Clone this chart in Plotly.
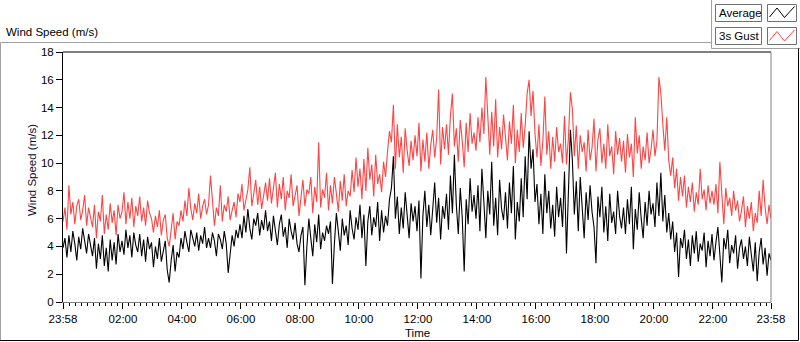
import plotly.graph_objects as go
import pandas as pd

# ---------------- data (4-minute samples from 23:58 to 23:58 next day) ----------------
average = [
    3.9, 4.6, 3.2, 4.8, 3.6, 5.1, 4.2, 3.0, 4.7, 3.8, 5.3, 4.4, 3.5, 4.9, 4.1,
    3.3, 4.6, 2.4, 4.2, 3.1, 4.8, 2.6, 3.9, 2.2, 4.5, 3.0, 4.3, 2.7, 4.9, 3.6,
    4.4, 3.4, 5.2, 3.9, 4.8, 3.2, 5.0, 4.1, 3.6, 4.9, 3.3, 4.5, 2.9, 4.7, 3.8,
    4.3, 2.5, 4.0, 3.1, 4.6, 2.9, 3.8, 4.4, 2.3, 1.4, 3.0, 4.1, 2.2, 3.6, 3.2,
    4.6, 3.8, 5.1, 4.3, 3.6, 5.2, 4.5, 4.0, 5.0, 3.7, 4.8, 4.2, 5.4, 3.9, 4.6,
    3.9, 5.0, 4.4, 3.3, 4.9, 4.5, 3.8, 5.1, 4.2, 2.1, 3.5, 4.8, 4.0, 5.2, 4.6,
    5.6, 4.6, 6.2, 5.0, 6.7, 5.3, 4.5, 6.0, 5.5, 6.4, 4.8, 5.9, 5.2, 6.6, 5.1,
    5.8, 4.4, 6.2, 5.0, 4.1, 5.6, 6.3, 4.7, 5.4, 3.9, 6.0, 5.1, 4.5, 5.7, 4.2,
    3.6, 4.8, 5.4, 1.2, 4.0, 6.0, 4.6, 3.3, 5.6, 4.3, 6.3, 3.8, 5.0, 4.4, 5.5,
    4.9, 5.8, 1.3, 4.2, 6.4, 5.1, 3.7, 6.0, 4.8, 5.5, 4.1, 6.6, 5.3, 4.5, 6.1,
    5.2, 7.0, 4.6, 6.3, 2.6, 5.8, 6.9, 4.8, 6.1, 5.4, 7.2, 4.4, 6.6, 5.0, 6.2,
    5.5, 7.4, 8.2, 10.5, 6.0, 7.6, 4.9, 6.8, 5.3, 7.9, 6.2, 4.6, 7.1, 5.8, 6.9,
    5.1, 7.3, 1.7, 6.2, 8.0, 5.4, 7.0, 4.8, 6.6, 8.6, 5.7, 7.5, 4.5, 6.9, 6.0,
    7.8, 5.2, 9.1, 6.4, 10.6, 7.0, 4.9, 8.2, 6.1, 2.2, 7.4, 5.6, 8.9, 6.5, 7.7,
    6.0, 8.4, 5.1, 9.6, 7.2, 4.6, 8.0, 6.3, 10.1, 5.5, 7.5, 4.8, 8.8, 6.7, 5.9,
    7.9, 5.3, 8.6, 6.4, 9.8, 4.5, 7.2, 5.8, 8.9, 6.1, 10.5, 7.4, 12.3, 9.6, 11.0,
    7.2, 8.5, 5.6, 7.8, 4.9, 9.2, 6.4, 8.0, 5.3, 7.0, 4.7, 8.3, 6.1, 7.5, 5.4,
    9.4, 3.5, 8.1, 12.4, 10.2, 6.3, 8.7, 5.1, 9.0, 6.8, 4.6, 7.9, 5.9, 8.4, 6.5,
    5.4, 2.8, 7.6, 6.1, 8.3, 5.0, 6.9, 4.4, 7.8, 5.7, 6.5, 4.9, 8.0, 6.2, 5.3,
    6.8, 4.9, 7.4, 5.6, 8.3, 3.8, 6.7, 5.2, 7.9, 6.0, 4.6, 7.2, 5.5, 8.0, 6.3,
    7.1, 5.4, 8.6, 6.2, 9.3, 5.8, 7.7, 5.0, 6.4, 4.5, 5.8, 3.6, 5.0, 1.8, 4.6,
    3.9, 5.2, 3.1, 4.5, 2.6, 4.8, 3.5, 5.1, 2.9, 4.2, 3.7, 5.0, 2.5, 4.4, 3.3,
    4.9, 3.0, 4.3, 5.4, 3.4, 1.4, 4.6, 3.8, 5.2, 2.8, 4.1, 3.5, 4.8, 2.4, 3.9,
    4.5, 3.1, 4.0, 2.6, 4.7, 3.4, 2.2, 4.3, 1.5, 3.6, 4.6, 2.7, 3.9, 1.9, 3.5,
    3.0,
]

gust = [
    5.8, 6.8, 5.2, 8.4, 6.3, 7.2, 5.6, 6.9, 7.4, 5.9, 6.6, 7.7, 5.5, 6.8, 6.1,
    5.4, 7.0, 4.6, 6.5, 5.8, 7.7, 4.9, 6.3, 5.2, 7.1, 5.7, 6.6, 4.8, 7.0, 6.0,
    6.5, 7.9, 5.6, 7.2, 6.0, 7.5, 5.4, 6.9, 6.2, 7.6, 5.8, 6.8, 5.5, 7.3, 6.4,
    6.0, 5.0, 6.2, 5.4, 6.6, 4.8, 5.9, 6.3, 4.6, 4.0, 5.1, 6.4, 4.5, 5.8, 5.5,
    6.6, 5.8, 7.3, 6.2, 8.2, 6.7, 5.9, 7.1, 6.4, 7.8, 6.0, 6.9, 7.4, 6.3, 7.0,
    9.1, 7.3, 5.5, 6.8, 6.2, 8.4, 5.8, 7.0, 6.5, 7.6, 5.9, 6.6, 7.2, 6.1, 7.8,
    7.2, 8.5, 6.6, 7.4, 8.1, 9.7, 6.9, 7.8, 8.8, 7.0, 8.3, 6.7, 7.6, 8.6, 7.3,
    8.9, 7.1, 8.2, 9.3, 6.8, 8.5, 7.4, 9.0, 6.6, 8.0, 7.5, 9.2, 6.9, 7.8, 8.4,
    6.2, 7.6, 8.8, 6.9, 8.1, 7.8, 9.0, 6.4, 8.3, 7.2, 11.5, 6.8, 8.1, 7.5, 9.3,
    6.6, 8.4, 7.1, 9.0, 7.8, 6.5, 8.7, 7.3, 9.2, 6.9, 8.0, 7.6, 9.5, 7.9, 10.4,
    8.3, 9.6, 7.4, 10.3, 8.0, 11.1, 8.8, 9.9, 7.6, 10.6, 8.5, 9.2, 7.9, 10.1, 9.0,
    10.8, 12.3, 11.5, 14.2, 9.6, 12.8, 10.4, 11.9, 9.3, 12.5, 10.9, 9.8, 11.6, 10.2, 12.0,
    10.5, 12.9, 9.4, 11.7, 10.1, 12.2, 9.6, 11.3, 12.4, 10.4, 11.8, 15.3, 9.9, 12.6, 11.0,
    12.8, 10.6, 13.4, 15.0, 11.2, 12.5, 10.1, 13.1, 11.6, 9.7, 12.9, 10.8, 13.6, 11.4, 12.2,
    10.9, 13.3, 11.5, 14.0, 12.1, 16.2, 12.8, 10.6, 13.7, 11.2, 14.6, 10.4, 12.6, 11.0, 13.5,
    11.8, 10.2, 13.0, 11.4, 14.2, 10.0, 12.4, 10.8, 13.6, 11.1, 12.7, 15.0, 16.0, 13.4, 15.2,
    12.1, 10.4, 12.8, 9.8, 11.6, 14.8, 10.6, 12.3, 9.6, 11.9, 10.1, 12.6, 10.8, 11.4, 10.0,
    13.4, 9.9, 11.8, 15.1, 13.9, 10.5, 12.7, 9.6, 12.0, 10.8, 11.5, 9.4, 12.4, 10.2, 11.1,
    13.2, 9.4, 11.7, 12.5, 10.0, 11.4, 9.6, 12.8, 10.5, 11.2, 9.2, 12.3, 10.6, 11.8, 10.1,
    11.6, 9.3, 12.1, 10.4, 11.4, 9.0, 13.3, 10.7, 12.0, 9.6, 11.2, 10.2, 12.2, 10.0, 11.0,
    12.4, 10.5, 11.6, 16.2, 15.0, 12.8, 10.9, 13.3, 10.2, 9.1, 10.4, 8.2, 9.6, 7.3, 9.0,
    7.6, 9.1, 6.8, 8.3, 7.2, 8.6, 6.5, 7.9, 7.0, 9.6, 7.4, 8.1, 6.6, 8.4, 7.1,
    8.0, 7.0, 8.5, 6.4, 10.1, 7.8, 5.6, 8.2, 6.9, 7.5, 6.2, 8.0, 6.6, 7.3, 5.8,
    6.6, 7.6, 5.4, 6.9, 6.0, 7.2, 5.1, 6.4, 5.7, 8.0, 6.2, 8.8, 6.8, 5.6, 7.0,
    6.0,
]

start_time = "2023-01-01 23:58"
step_minutes = 4
tick_labels = ["23:58", "02:00", "04:00", "06:00", "08:00", "10:00", "12:00",
               "14:00", "16:00", "18:00", "20:00", "22:00", "23:58"]
y_ticks = [0, 2, 4, 6, 8, 10, 12, 14, 16, 18]

# ---------------- figure ----------------
t0 = pd.Timestamp(start_time)
times = [t0 + pd.Timedelta(minutes=step_minutes * i) for i in range(len(average))]
t_end = t0 + pd.Timedelta(hours=24)
day2 = pd.Timestamp("2023-01-02 00:00")
major_vals = [t0] + [day2 + pd.Timedelta(hours=h) for h in range(2, 24, 2)] + [t_end]
minor_vals = [day2 + pd.Timedelta(minutes=12 * k) for k in range(1, 120) if k % 10 != 0]

FONT = "Liberation Sans"
W, H = 800, 342
L, R, T, B = 63, 29, 52, 40
PW, PH = W - L - R, H - T - B


def px(x):
    return (x - L) / PW


def py(y):
    return (H - B - y) / PH


fig = go.Figure()
fig.add_trace(go.Scatter(x=times, y=average, mode="lines", name="Average",
                         line=dict(color="#000000", width=1.1)))
fig.add_trace(go.Scatter(x=times, y=gust, mode="lines", name="3s Gust",
                         line=dict(color="#ff4444", width=1.1)))

shapes = []
# outer frame (3D look)
shapes.append(dict(type="path", xref="paper", yref="paper",
                   path=f"M {px(0.5)},{py(341)} L {px(0.5)},{py(42.5)} L {px(711.5)},{py(42.5)}",
                   line=dict(color="#a0a0a0", width=1)))
shapes.append(dict(type="path", xref="paper", yref="paper",
                   path=f"M {px(711.5)},{py(0)} L {px(711.5)},{py(48.5)} L {px(800)},{py(48.5)}",
                   line=dict(color="#a0a0a0", width=1)))
shapes.append(dict(type="path", xref="paper", yref="paper",
                   path=f"M {px(798.5)},{py(48.5)} L {px(798.5)},{py(340.5)} L {px(0)},{py(340.5)}",
                   line=dict(color="#000000", width=1)))
# plot frame top (black) and right (gray)
shapes.append(dict(type="line", xref="paper", yref="paper", x0=0, x1=1, y0=1, y1=1,
                   line=dict(color="#000000", width=1)))
shapes.append(dict(type="line", xref="paper", yref="paper", x0=1, x1=1, y0=0, y1=1,
                   line=dict(color="#808080", width=1)))

# legend boxes
for (y0, y1) in [(4.5, 21.5), (27.5, 44.5)]:
    shapes.append(dict(type="rect", xref="paper", yref="paper",
                       x0=px(715.5), x1=px(761.5), y0=py(y1), y1=py(y0),
                       line=dict(color="#707070", width=1), fillcolor="white"))
    shapes.append(dict(type="rect", xref="paper", yref="paper",
                       x0=px(767.5), x1=px(796.5), y0=py(y1), y1=py(y0),
                       line=dict(color="#707070", width=1), fillcolor="white"))
icon_color = ["#000000", "#ff4444"]
for i, yo in enumerate([0, 23.5]):
    pts = [(769.5, 17 + yo), (777, 8 + yo), (784.5, 17.5 + yo), (794.5, 6.5 + yo)]
    path = "M " + " L ".join(f"{px(a)},{py(b)}" for a, b in pts)
    shapes.append(dict(type="path", xref="paper", yref="paper", path=path,
                       line=dict(color=icon_color[i], width=1)))

annotations = [
    dict(text="Wind Speed (m/s)", xref="paper", yref="paper", x=px(4), y=py(32.5),
         xanchor="left", yanchor="middle", showarrow=False,
         font=dict(family=FONT, size=11.5, color="#000000")),
    dict(text="Wind Speed (m/s)", xref="paper", yref="paper", x=px(32), y=py(170),
         xanchor="center", yanchor="middle", showarrow=False, textangle=-90,
         font=dict(family=FONT, size=11.5, color="#101030")),
    dict(text="Time", xref="paper", yref="paper", x=0.5, y=py(333),
         xanchor="center", yanchor="middle", showarrow=False,
         font=dict(family=FONT, size=11.5, color="#000000")),
    dict(text="Average", xref="paper", yref="paper", x=px(717), y=py(13),
         xanchor="left", yanchor="middle", showarrow=False,
         font=dict(family=FONT, size=11.5, color="#000000")),
    dict(text="3s Gust", xref="paper", yref="paper", x=px(717), y=py(36),
         xanchor="left", yanchor="middle", showarrow=False,
         font=dict(family=FONT, size=11.5, color="#000000")),
]

fig.update_layout(
    width=W, height=H,
    margin=dict(l=L, r=R, t=T, b=B, pad=0),
    paper_bgcolor="white", plot_bgcolor="white",
    showlegend=False,
    font=dict(family=FONT, size=11, color="#000000"),
    shapes=shapes,
    annotations=annotations,
    xaxis=dict(
        type="date", range=[t0, t_end],
        tickmode="array", tickvals=major_vals, ticktext=tick_labels,
        ticks="outside", ticklen=6, tickwidth=1, tickcolor="#000000",
        showgrid=False, zeroline=False,
        showline=True, linecolor="#808080", linewidth=1,
        tickfont=dict(family=FONT, size=11.5, color="#000000"),
        minor=dict(tickmode="array", tickvals=minor_vals, ticks="outside",
                   ticklen=3, tickcolor="#000000", showgrid=False),
    ),
    yaxis=dict(
        range=[0, 18], tickmode="array", tickvals=y_ticks,
        ticks="outside", ticklen=6, tickwidth=1, tickcolor="#000000",
        showgrid=False, zeroline=False,
        showline=True, linecolor="#000000", linewidth=1,
        tickfont=dict(family=FONT, size=11.5, color="#000000"),
    ),
)

fig.write_html("out.html", config={"displayModeBar": False},
               post_script="document.body.style.margin='0px';document.body.style.overflow='hidden';")
